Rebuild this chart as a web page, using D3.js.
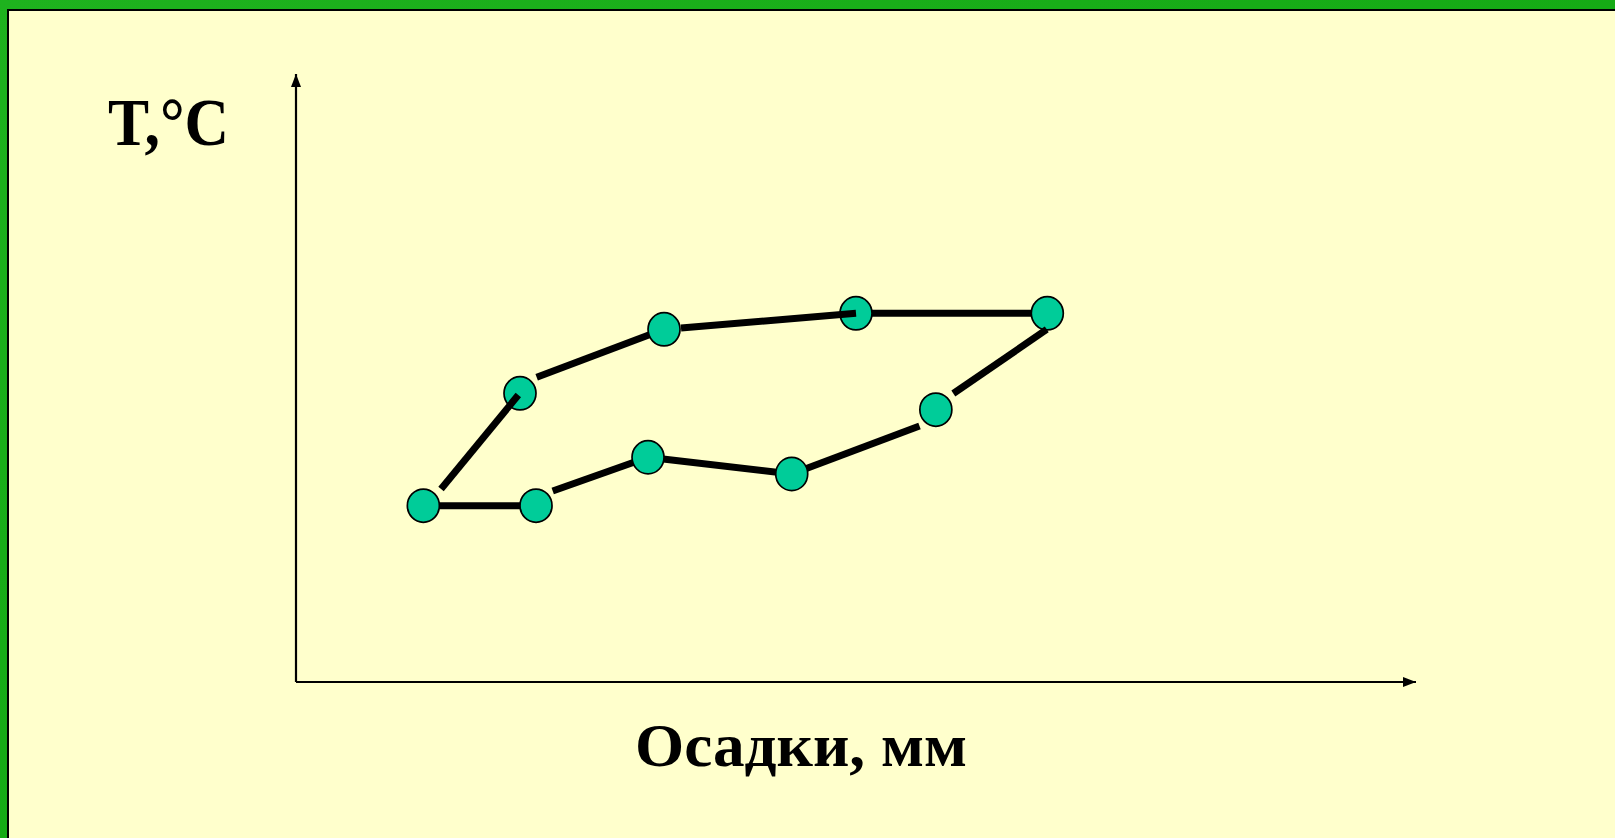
<!DOCTYPE html>
<html>
<head>
<meta charset="utf-8">
<script src="https://cdn.jsdelivr.net/npm/d3@7/dist/d3.min.js"></script>
<style>
  html, body { margin: 0; padding: 0; background: #FFFFCC; overflow: hidden; }
  svg { display: block; }
</style>
</head>
<body>
<svg id="chart" width="1615" height="838"></svg>
<script>
// Station points (precipitation on x, temperature on y, arbitrary units 0..100)
const pointX = [11.37, 21.43, 31.43, 44.26, 57.13, 67.08, 50.0, 32.86, 20.0];
const pointY = [29.0, 29.0, 36.96, 34.21, 44.79, 60.64, 60.64, 58.01, 47.48];

// Connecting strokes drawn beneath the markers: [x1, y1, x2, y2]
const segmentsBelow = [
  [11.37, 29.0, 21.43, 29.0],
  [22.92, 31.41, 31.43, 36.96],
  [31.43, 36.96, 44.26, 34.21],
  [44.26, 34.21, 55.67, 42.11],
  [67.08, 60.64, 50.0, 60.64],
  [21.49, 50.12, 32.86, 58.01]
];
// Connecting strokes drawn on top of the markers
const segmentsAbove = [
  [58.69, 47.45, 67.03, 57.98],
  [34.375, 58.22, 50.0, 60.64],
  [12.95, 31.74, 19.85, 47.2]
];

const yLabel = "T,°C";
const xLabel = "Осадки, мм";

const svg = d3.select("#chart");
const W = 1615, H = 838;

// Slide frame: green band with a thin black rule
const defs = svg.append("defs");
const grad = defs.append("linearGradient").attr("id", "frameGreen")
  .attr("x1", "0%").attr("y1", "0%").attr("x2", "100%").attr("y2", "100%");
grad.append("stop").attr("offset", "0%").attr("stop-color", "#1EB21E");
grad.append("stop").attr("offset", "100%").attr("stop-color", "#0CA30C");

svg.append("rect").attr("x", 0).attr("y", 0).attr("width", W).attr("height", H)
  .attr("fill", "url(#frameGreen)");
svg.append("rect").attr("x", 8).attr("y", 10).attr("width", W + 20).attr("height", H + 20)
  .attr("fill", "#FFFFCC").attr("stroke", "#000").attr("stroke-width", 2);

// Scales
const x = d3.scaleLinear().domain([0, 100]).range([296, 1416]);
const y = d3.scaleLinear().domain([0, 100]).range([682, 74]);

// Arrowheads
const mk = defs.append("marker").attr("id", "arrow")
  .attr("viewBox", "0 0 13 10").attr("refX", 13).attr("refY", 5)
  .attr("markerWidth", 13).attr("markerHeight", 10)
  .attr("markerUnits", "userSpaceOnUse").attr("orient", "auto");
mk.append("path").attr("d", "M0,0 L13,5 L0,10 Z").attr("fill", "#000");

// Axes
const axes = svg.append("g").attr("stroke", "#000").attr("stroke-width", 2.2).attr("fill", "none");
axes.append("line")
  .attr("x1", x(0)).attr("y1", y(0)).attr("x2", x(0)).attr("y2", y(100))
  .attr("marker-end", "url(#arrow)");
axes.append("line")
  .attr("x1", x(0)).attr("y1", y(0)).attr("x2", x(100)).attr("y2", y(0))
  .attr("marker-end", "url(#arrow)");

function drawSegments(data) {
  svg.append("g").selectAll("line").data(data).join("line")
    .attr("x1", d => x(d[0])).attr("y1", d => y(d[1]))
    .attr("x2", d => x(d[2])).attr("y2", d => y(d[3]))
    .attr("stroke", "#000").attr("stroke-width", 7).attr("stroke-linecap", "butt");
}

drawSegments(segmentsBelow);

// Markers
const pts = pointX.map((v, i) => [v, pointY[i]]);
svg.append("g").selectAll("ellipse").data(pts).join("ellipse")
  .attr("cx", d => x(d[0])).attr("cy", d => y(d[1]))
  .attr("rx", 16).attr("ry", 16.6)
  .attr("fill", "#00CC99").attr("stroke", "#000").attr("stroke-width", 1.7);

drawSegments(segmentsAbove);

// Axis titles
svg.append("text")
  .attr("x", 108).attr("y", 145)
  .attr("font-family", "'Liberation Serif', 'Times New Roman', serif")
  .attr("font-weight", "bold").attr("font-size", 67)
  .attr("textLength", 121).attr("lengthAdjust", "spacingAndGlyphs")
  .attr("fill", "#000")
  .text(yLabel);

svg.append("text")
  .attr("x", 635).attr("y", 766)
  .attr("font-family", "'Liberation Serif', 'Times New Roman', serif")
  .attr("font-weight", "bold").attr("font-size", 61)
  .attr("textLength", 332).attr("lengthAdjust", "spacingAndGlyphs")
  .attr("fill", "#000")
  .text(xLabel);
</script>
</body>
</html>
